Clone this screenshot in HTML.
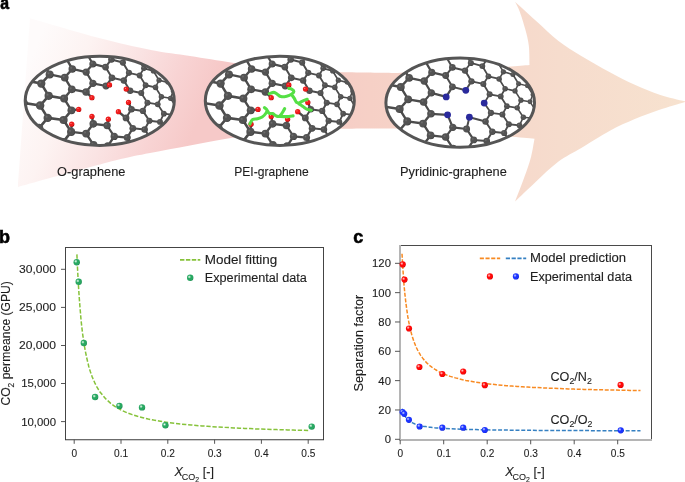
<!DOCTYPE html><html><head><meta charset="utf-8"><style>html,body{margin:0;padding:0;background:#fff;overflow:hidden}svg{display:block;will-change:transform}text{font-family:"Liberation Sans",sans-serif;stroke:#1e1e1e;stroke-width:0.12px}</style></head><body>
<svg width="685" height="482" viewBox="0 0 685 482">
<defs>
<linearGradient id="hg" gradientUnits="userSpaceOnUse" x1="280" y1="0" x2="686" y2="0"><stop offset="0.0000" stop-color="#f5c9c6"/><stop offset="0.2217" stop-color="#f6d0c6"/><stop offset="0.6897" stop-color="#f6dccd"/><stop offset="1.0000" stop-color="#f7e2cf"/></linearGradient>
<linearGradient id="hg2" gradientUnits="userSpaceOnUse" x1="30" y1="60" x2="194.6" y2="129.2"><stop offset="0" stop-color="#fefbfb"/><stop offset="0.27" stop-color="#fdf3f2"/><stop offset="0.55" stop-color="#fae3e3"/><stop offset="0.8" stop-color="#f8d3d3"/><stop offset="1" stop-color="#f6c9c8"/></linearGradient>
<radialGradient id="gG" cx="0.36" cy="0.36" r="0.64"><stop offset="0" stop-color="#f4fff7"/><stop offset="0.42" stop-color="#28a862"/><stop offset="0.85" stop-color="#28a862"/><stop offset="1" stop-color="#1f8f52"/></radialGradient>
<radialGradient id="gR" cx="0.36" cy="0.36" r="0.64"><stop offset="0" stop-color="#ffd6d6"/><stop offset="0.42" stop-color="#ff0808"/><stop offset="0.85" stop-color="#ff0808"/><stop offset="1" stop-color="#d80000"/></radialGradient>
<radialGradient id="gB" cx="0.36" cy="0.36" r="0.64"><stop offset="0" stop-color="#d0d8ff"/><stop offset="0.42" stop-color="#1c34ff"/><stop offset="0.85" stop-color="#1c34ff"/><stop offset="1" stop-color="#0d22d8"/></radialGradient>
<radialGradient id="gC" cx="0.36" cy="0.36" r="0.64"><stop offset="0" stop-color="#707070"/><stop offset="0.3" stop-color="#535353"/><stop offset="0.85" stop-color="#535353"/><stop offset="1" stop-color="#404040"/></radialGradient>
<radialGradient id="gO" cx="0.36" cy="0.36" r="0.64"><stop offset="0" stop-color="#ff9090"/><stop offset="0.28" stop-color="#ee1c1c"/><stop offset="0.85" stop-color="#ee1c1c"/><stop offset="1" stop-color="#b30000"/></radialGradient>
<radialGradient id="gN" cx="0.36" cy="0.36" r="0.64"><stop offset="0" stop-color="#6a6ad0"/><stop offset="0.28" stop-color="#2a2aa0"/><stop offset="0.85" stop-color="#2a2aa0"/><stop offset="1" stop-color="#1a1a70"/></radialGradient>
</defs>
<path d="M280.0,71.6 C290.8,71.7 325.8,72.1 345.0,72.3 C364.2,72.5 386.7,72.9 395.0,73.0 C407.5,72.4 447.6,70.8 470.0,69.5 C492.4,68.2 519.6,65.8 529.5,65.0 C529.4,61.8 529.5,51.5 528.8,45.6 C528.1,39.7 526.9,35.4 525.4,29.7 C523.9,24.0 521.4,16.1 519.7,11.4 C518.0,6.8 515.8,3.4 515.0,1.8 C518.4,4.9 528.4,14.0 535.6,20.5 C542.9,27.0 550.9,35.1 558.5,41.0 C566.1,46.9 572.7,50.7 581.3,55.9 C589.9,61.1 601.0,67.5 609.9,72.3 C618.8,77.1 626.5,81.1 634.8,84.8 C643.1,88.5 651.1,91.9 659.6,94.7 C668.1,97.5 681.6,100.4 686.0,101.6 C681.6,103.1 668.1,106.8 659.6,109.7 C651.1,112.6 643.1,115.6 634.8,119.1 C626.5,122.6 618.8,126.0 609.9,130.8 C601.0,135.6 589.9,142.9 581.3,148.0 C572.7,153.1 566.1,155.9 558.5,161.6 C550.9,167.3 542.8,175.3 535.6,182.0 C528.4,188.7 518.5,198.3 515.1,201.6 C516.6,197.6 521.6,185.0 524.2,177.6 C526.9,170.2 529.3,163.5 531.0,157.0 C532.7,150.5 533.9,141.8 534.5,138.8 C523.8,137.8 493.2,134.7 470.0,133.0 C446.8,131.3 407.5,129.3 395.0,128.6 C386.7,128.6 364.2,128.6 345.0,128.8 C325.8,129.0 290.8,129.5 280.0,129.7 C280.0,120.0 280.0,81.3 280.0,71.6 Z" fill="url(#hg)"/>
<path d="M30.0,18.0 C31.0,18.3 24.5,16.7 36.0,20.0 C47.5,23.3 79.8,33.0 99.0,38.0 C118.2,43.0 135.8,47.0 151.0,50.0 C166.2,53.0 176.2,53.8 190.0,56.0 C203.8,58.2 217.3,60.4 234.0,63.0 C250.7,65.6 280.7,70.3 290.0,71.8 C290.0,81.4 290.0,120.0 290.0,129.6 C280.7,130.9 250.7,134.9 234.0,137.5 C217.3,140.1 204.0,142.8 190.0,145.4 C176.0,148.0 162.5,150.5 150.0,153.0 C137.5,155.5 131.7,156.3 115.0,160.5 C98.3,164.7 66.2,173.6 50.0,178.0 C33.8,182.4 23.3,185.5 18.0,187.0 C20.0,158.8 28.0,46.2 30.0,18.0 Z" fill="url(#hg2)"/>
<clipPath id="ec0"><ellipse cx="99.75" cy="100.8" rx="74.55" ry="44.6"/></clipPath>
<ellipse cx="99.75" cy="100.8" rx="74.55" ry="44.6" fill="#fff"/>
<g clip-path="url(#ec0)"><path d="M173.31,91.14L181.21,92.77M165.1,66.96L170.43,75.71" stroke="#4c4c4c" stroke-width="1.4" fill="none" stroke-linecap="round"/><path d="M173.3,114.83L176.27,107.13M155.51,87.38L159.04,80.23M170.49,98.31L176.27,107.13M159.04,80.23L167.75,82.36M161.39,96.68L170.49,98.31M153.39,70.97L159.04,80.23M156.77,64.34L165.1,66.96M167.75,82.36L173.31,91.14M170.49,98.31L173.31,91.14M153.39,70.97L156.77,64.34M167.75,82.36L170.43,75.71" stroke="#4c4c4c" stroke-width="1.6" fill="none" stroke-linecap="round"/><path d="M157.71,104.36L163.83,113.69M155.51,87.38L161.39,96.68M141.22,92.91L147.43,102.72M163.83,113.69L173.3,114.83M122.84,62.58L127.8,55.47M127.8,55.47L138.12,58.59M159.99,121.89L166.34,131.26M139.63,75.47L145.61,85.25M145.61,85.25L155.51,87.38M141.22,92.91L145.61,85.25M159.99,121.89L163.83,113.69M138.12,58.59L143.87,68.34M147.43,102.72L157.71,104.36M143.87,68.34L153.39,70.97M157.71,104.36L161.39,96.68M139.63,75.47L143.87,68.34M128.92,72.84L139.63,75.47" stroke="#4c4c4c" stroke-width="1.8" fill="none" stroke-linecap="round"/><path d="M111.93,77.84L123.82,80.48M105.15,48.71L111.33,59.45M144.63,129.47L149.33,120.75M122.84,62.58L128.92,72.84M111.33,59.45L122.84,62.58M105.52,67.07L111.93,77.84M126.01,117.96L131.42,109.27M142.89,110.91L147.43,102.72M131.42,109.27L142.89,110.91M105.52,67.07L111.33,59.45M132.79,128.32L144.63,129.47M130.13,90.77L141.22,92.91M123.82,80.48L130.13,90.77M123.82,80.48L128.92,72.84M149.33,120.75L159.99,121.89M142.89,110.91L149.33,120.75M144.63,129.47L151.31,139.34" stroke="#4c4c4c" stroke-width="2" fill="none" stroke-linecap="round"/><path d="M127.23,137.54L134.23,147.93M92.82,63.93L105.52,67.07M107.09,125.51L114.19,136.38M86.06,92L92.88,83.35M105.96,85.99L111.93,77.84M127.23,137.54L132.79,128.32M114.19,136.38L127.23,137.54M86.14,72.06L92.88,83.35M86.14,72.06L92.82,63.93M126.01,117.96L132.79,128.32M92.88,83.35L105.96,85.99M86.31,52.68L92.82,63.93" stroke="#4c4c4c" stroke-width="2.2" fill="none" stroke-linecap="round"/><path d="M86.12,133.57L93.25,123.86M64.72,77.55L72.25,68.92M64.1,98.52L71.4,110.35M93.55,144.95L107.78,146.11M64.72,77.55L71.78,89.35M71.78,89.35L86.06,92M93.25,123.86L107.09,125.51M86.12,133.57L93.55,144.95M65.42,57.15L72.25,68.92M49.64,74.4L64.72,77.55M71.09,131.91L86.12,133.57M107.78,146.11L114.19,136.38M64.1,98.52L71.78,89.35M72.25,68.92L86.14,72.06M91.9,97.7L86.1,92M109.5,84.9L106,86M126.2,89.1L130.1,90.8M128.5,102.4L131.4,109.3M118.4,111.7L126,118M108.3,119.2L107.1,125.5M91.9,116.4L93.2,123.9M78.7,109.4L71.4,110.4M71.7,124.2L71.1,131.9" stroke="#4c4c4c" stroke-width="2.4" fill="none" stroke-linecap="round"/><path d="M41.25,83.55L48.64,95.86M63.56,120.04L71.4,110.35M39.03,128.08L47.72,117.88M48.64,95.86L64.1,98.52M47.72,117.88L63.56,120.04M63.1,142.13L71.09,131.91M40.1,105.54L48.64,95.86M23.45,102.88L40.1,105.54M40.1,105.54L47.72,117.88M41.25,83.55L49.64,74.4M46.88,140.46L63.1,142.13M42.48,62.12L49.64,74.4M24.98,80.39L41.25,83.55M63.56,120.04L71.09,131.91" stroke="#4c4c4c" stroke-width="2.6" fill="none" stroke-linecap="round"/><path d="M39.03,128.08L46.88,140.46" stroke="#4c4c4c" stroke-width="2.8" fill="none" stroke-linecap="round"/><circle cx="24.98" cy="80.39" r="4.28" fill="url(#gC)"/><circle cx="23.45" cy="102.88" r="4.38" fill="url(#gC)"/><circle cx="42.48" cy="62.12" r="4.04" fill="url(#gC)"/><circle cx="49.64" cy="74.4" r="4.02" fill="url(#gC)"/><circle cx="41.25" cy="83.55" r="4.14" fill="url(#gC)"/><circle cx="48.64" cy="95.86" r="4.12" fill="url(#gC)"/><circle cx="40.1" cy="105.54" r="4.24" fill="url(#gC)"/><circle cx="47.72" cy="117.88" r="4.22" fill="url(#gC)"/><circle cx="39.03" cy="128.08" r="4.34" fill="url(#gC)"/><circle cx="46.88" cy="140.46" r="4.32" fill="url(#gC)"/><circle cx="65.42" cy="57.15" r="3.78" fill="url(#gC)"/><circle cx="72.25" cy="68.92" r="3.76" fill="url(#gC)"/><circle cx="64.72" cy="77.55" r="3.88" fill="url(#gC)"/><circle cx="71.78" cy="89.35" r="3.86" fill="url(#gC)"/><circle cx="64.1" cy="98.52" r="3.98" fill="url(#gC)"/><circle cx="71.4" cy="110.35" r="3.96" fill="url(#gC)"/><circle cx="63.56" cy="120.04" r="4.08" fill="url(#gC)"/><circle cx="71.09" cy="131.91" r="4.06" fill="url(#gC)"/><circle cx="63.1" cy="142.13" r="4.18" fill="url(#gC)"/><circle cx="86.31" cy="52.68" r="3.52" fill="url(#gC)"/><circle cx="92.82" cy="63.93" r="3.5" fill="url(#gC)"/><circle cx="86.14" cy="72.06" r="3.62" fill="url(#gC)"/><circle cx="92.88" cy="83.35" r="3.6" fill="url(#gC)"/><circle cx="86.06" cy="92" r="3.72" fill="url(#gC)"/><circle cx="93.25" cy="123.86" r="3.8" fill="url(#gC)"/><circle cx="86.12" cy="133.57" r="3.92" fill="url(#gC)"/><circle cx="93.55" cy="144.95" r="3.9" fill="url(#gC)"/><circle cx="105.15" cy="48.71" r="3.25" fill="url(#gC)"/><circle cx="111.33" cy="59.45" r="3.23" fill="url(#gC)"/><circle cx="105.52" cy="67.07" r="3.35" fill="url(#gC)"/><circle cx="111.93" cy="77.84" r="3.33" fill="url(#gC)"/><circle cx="105.96" cy="85.99" r="3.46" fill="url(#gC)"/><circle cx="107.09" cy="125.51" r="3.66" fill="url(#gC)"/><circle cx="114.19" cy="136.38" r="3.65" fill="url(#gC)"/><circle cx="107.78" cy="146.11" r="3.77" fill="url(#gC)"/><circle cx="127.8" cy="55.47" r="2.96" fill="url(#gC)"/><circle cx="122.84" cy="62.58" r="3.09" fill="url(#gC)"/><circle cx="128.92" cy="72.84" r="3.07" fill="url(#gC)"/><circle cx="123.82" cy="80.48" r="3.19" fill="url(#gC)"/><circle cx="130.13" cy="90.77" r="3.17" fill="url(#gC)"/><circle cx="131.42" cy="109.27" r="3.28" fill="url(#gC)"/><circle cx="126.01" cy="117.96" r="3.4" fill="url(#gC)"/><circle cx="132.79" cy="128.32" r="3.39" fill="url(#gC)"/><circle cx="127.23" cy="137.54" r="3.51" fill="url(#gC)"/><circle cx="134.23" cy="147.93" r="3.49" fill="url(#gC)"/><circle cx="138.12" cy="58.59" r="2.81" fill="url(#gC)"/><circle cx="143.87" cy="68.34" r="2.79" fill="url(#gC)"/><circle cx="139.63" cy="75.47" r="2.92" fill="url(#gC)"/><circle cx="145.61" cy="85.25" r="2.9" fill="url(#gC)"/><circle cx="141.22" cy="92.91" r="3.03" fill="url(#gC)"/><circle cx="147.43" cy="102.72" r="3.01" fill="url(#gC)"/><circle cx="142.89" cy="110.91" r="3.14" fill="url(#gC)"/><circle cx="149.33" cy="120.75" r="3.12" fill="url(#gC)"/><circle cx="144.63" cy="129.47" r="3.25" fill="url(#gC)"/><circle cx="151.31" cy="139.34" r="3.23" fill="url(#gC)"/><circle cx="156.77" cy="64.34" r="2.52" fill="url(#gC)"/><circle cx="153.39" cy="70.97" r="2.65" fill="url(#gC)"/><circle cx="159.04" cy="80.23" r="2.63" fill="url(#gC)"/><circle cx="155.51" cy="87.38" r="2.76" fill="url(#gC)"/><circle cx="161.39" cy="96.68" r="2.74" fill="url(#gC)"/><circle cx="157.71" cy="104.36" r="2.87" fill="url(#gC)"/><circle cx="163.83" cy="113.69" r="2.86" fill="url(#gC)"/><circle cx="159.99" cy="121.89" r="2.98" fill="url(#gC)"/><circle cx="166.34" cy="131.26" r="2.97" fill="url(#gC)"/><circle cx="165.1" cy="66.96" r="2.37" fill="url(#gC)"/><circle cx="170.43" cy="75.71" r="2.35" fill="url(#gC)"/><circle cx="167.75" cy="82.36" r="2.48" fill="url(#gC)"/><circle cx="173.31" cy="91.14" r="2.47" fill="url(#gC)"/><circle cx="170.49" cy="98.31" r="2.6" fill="url(#gC)"/><circle cx="176.27" cy="107.13" r="2.59" fill="url(#gC)"/><circle cx="173.3" cy="114.83" r="2.72" fill="url(#gC)"/><circle cx="181.21" cy="92.77" r="2.32" fill="url(#gC)"/><circle cx="91.9" cy="97.7" r="2.65" fill="url(#gO)"/><circle cx="109.5" cy="84.9" r="2.65" fill="url(#gO)"/><circle cx="126.2" cy="89.1" r="2.65" fill="url(#gO)"/><circle cx="128.5" cy="102.4" r="2.65" fill="url(#gO)"/><circle cx="118.4" cy="111.7" r="2.65" fill="url(#gO)"/><circle cx="108.3" cy="119.2" r="2.65" fill="url(#gO)"/><circle cx="91.9" cy="116.4" r="2.65" fill="url(#gO)"/><circle cx="78.7" cy="109.4" r="2.65" fill="url(#gO)"/><circle cx="71.7" cy="124.2" r="2.65" fill="url(#gO)"/></g>
<ellipse cx="99.75" cy="100.8" rx="74.55" ry="44.6" fill="none" stroke="#555" stroke-width="3"/>
<clipPath id="ec1"><ellipse cx="279.8" cy="100.8" rx="74.5" ry="44.6"/></clipPath>
<ellipse cx="279.8" cy="100.8" rx="74.5" ry="44.6" fill="#fff"/>
<g clip-path="url(#ec1)"><path d="M352.61,91.14L360.51,92.77M344.4,66.96L349.73,75.71" stroke="#4c4c4c" stroke-width="1.4" fill="none" stroke-linecap="round"/><path d="M352.6,114.83L355.57,107.13M334.81,87.38L338.34,80.23M349.79,98.31L355.57,107.13M338.34,80.23L347.05,82.36M340.69,96.68L349.79,98.31M332.69,70.97L338.34,80.23M336.07,64.34L344.4,66.96M347.05,82.36L352.61,91.14M349.79,98.31L352.61,91.14M332.69,70.97L336.07,64.34M347.05,82.36L349.73,75.71" stroke="#4c4c4c" stroke-width="1.6" fill="none" stroke-linecap="round"/><path d="M337.01,104.36L343.13,113.69M334.81,87.38L340.69,96.68M320.52,92.91L326.73,102.72M343.13,113.69L352.6,114.83M302.14,62.58L307.1,55.47M307.1,55.47L317.42,58.59M339.29,121.89L345.64,131.26M318.93,75.47L324.91,85.25M324.91,85.25L334.81,87.38M320.52,92.91L324.91,85.25M339.29,121.89L343.13,113.69M317.42,58.59L323.17,68.34M326.73,102.72L337.01,104.36M323.17,68.34L332.69,70.97M337.01,104.36L340.69,96.68M318.93,75.47L323.17,68.34M308.22,72.84L318.93,75.47" stroke="#4c4c4c" stroke-width="1.8" fill="none" stroke-linecap="round"/><path d="M291.23,77.84L303.12,80.48M284.45,48.71L290.63,59.45M323.93,129.47L328.63,120.75M302.14,62.58L308.22,72.84M290.63,59.45L302.14,62.58M284.82,67.07L291.23,77.84M305.31,117.96L310.72,109.27M322.19,110.91L326.73,102.72M310.72,109.27L322.19,110.91M284.82,67.07L290.63,59.45M312.09,128.32L323.93,129.47M309.43,90.77L320.52,92.91M303.12,80.48L309.43,90.77M303.12,80.48L308.22,72.84M328.63,120.75L339.29,121.89M322.19,110.91L328.63,120.75M323.93,129.47L330.61,139.34" stroke="#4c4c4c" stroke-width="2" fill="none" stroke-linecap="round"/><path d="M306.53,137.54L313.53,147.93M272.12,63.93L284.82,67.07M286.39,125.51L293.49,136.38M265.36,92L272.18,83.35M285.26,85.99L291.23,77.84M306.53,137.54L312.09,128.32M293.49,136.38L306.53,137.54M265.44,72.06L272.18,83.35M265.44,72.06L272.12,63.93M305.31,117.96L312.09,128.32M272.18,83.35L285.26,85.99M265.61,52.68L272.12,63.93" stroke="#4c4c4c" stroke-width="2.2" fill="none" stroke-linecap="round"/><path d="M265.42,133.57L272.55,123.86M244.02,77.55L251.55,68.92M243.4,98.52L250.7,110.35M272.85,144.95L287.08,146.11M244.02,77.55L251.08,89.35M251.08,89.35L265.36,92M272.55,123.86L286.39,125.51M265.42,133.57L272.85,144.95M244.72,57.15L251.55,68.92M228.94,74.4L244.02,77.55M250.39,131.91L265.42,133.57M287.08,146.11L293.49,136.38M243.4,98.52L251.08,89.35M251.55,68.92L265.44,72.06M271.2,97.7L265.4,92M288.8,84.9L285.3,86M305.5,89.1L309.4,90.8M307.8,102.4L310.7,109.3M297.7,111.7L305.3,118M287.6,119.2L286.4,125.5M271.2,116.4L272.5,123.9M258,109.4L250.7,110.4M251,124.2L250.4,131.9" stroke="#4c4c4c" stroke-width="2.4" fill="none" stroke-linecap="round"/><path d="M220.55,83.55L227.94,95.86M242.86,120.04L250.7,110.35M218.33,128.08L227.02,117.88M227.94,95.86L243.4,98.52M227.02,117.88L242.86,120.04M242.4,142.13L250.39,131.91M219.4,105.54L227.94,95.86M202.75,102.88L219.4,105.54M219.4,105.54L227.02,117.88M220.55,83.55L228.94,74.4M226.18,140.46L242.4,142.13M221.78,62.12L228.94,74.4M204.28,80.39L220.55,83.55M242.86,120.04L250.39,131.91" stroke="#4c4c4c" stroke-width="2.6" fill="none" stroke-linecap="round"/><path d="M218.33,128.08L226.18,140.46" stroke="#4c4c4c" stroke-width="2.8" fill="none" stroke-linecap="round"/><circle cx="204.28" cy="80.39" r="4.28" fill="url(#gC)"/><circle cx="202.75" cy="102.88" r="4.38" fill="url(#gC)"/><circle cx="221.78" cy="62.12" r="4.04" fill="url(#gC)"/><circle cx="228.94" cy="74.4" r="4.02" fill="url(#gC)"/><circle cx="220.55" cy="83.55" r="4.14" fill="url(#gC)"/><circle cx="227.94" cy="95.86" r="4.12" fill="url(#gC)"/><circle cx="219.4" cy="105.54" r="4.24" fill="url(#gC)"/><circle cx="227.02" cy="117.88" r="4.22" fill="url(#gC)"/><circle cx="218.33" cy="128.08" r="4.34" fill="url(#gC)"/><circle cx="226.18" cy="140.46" r="4.32" fill="url(#gC)"/><circle cx="244.72" cy="57.15" r="3.78" fill="url(#gC)"/><circle cx="251.55" cy="68.92" r="3.76" fill="url(#gC)"/><circle cx="244.02" cy="77.55" r="3.88" fill="url(#gC)"/><circle cx="251.08" cy="89.35" r="3.86" fill="url(#gC)"/><circle cx="243.4" cy="98.52" r="3.98" fill="url(#gC)"/><circle cx="250.7" cy="110.35" r="3.96" fill="url(#gC)"/><circle cx="242.86" cy="120.04" r="4.08" fill="url(#gC)"/><circle cx="250.39" cy="131.91" r="4.06" fill="url(#gC)"/><circle cx="242.4" cy="142.13" r="4.18" fill="url(#gC)"/><circle cx="265.61" cy="52.68" r="3.52" fill="url(#gC)"/><circle cx="272.12" cy="63.93" r="3.5" fill="url(#gC)"/><circle cx="265.44" cy="72.06" r="3.62" fill="url(#gC)"/><circle cx="272.18" cy="83.35" r="3.6" fill="url(#gC)"/><circle cx="265.36" cy="92" r="3.72" fill="url(#gC)"/><circle cx="272.55" cy="123.86" r="3.8" fill="url(#gC)"/><circle cx="265.42" cy="133.57" r="3.92" fill="url(#gC)"/><circle cx="272.85" cy="144.95" r="3.9" fill="url(#gC)"/><circle cx="284.45" cy="48.71" r="3.25" fill="url(#gC)"/><circle cx="290.63" cy="59.45" r="3.23" fill="url(#gC)"/><circle cx="284.82" cy="67.07" r="3.35" fill="url(#gC)"/><circle cx="291.23" cy="77.84" r="3.33" fill="url(#gC)"/><circle cx="285.26" cy="85.99" r="3.46" fill="url(#gC)"/><circle cx="286.39" cy="125.51" r="3.66" fill="url(#gC)"/><circle cx="293.49" cy="136.38" r="3.65" fill="url(#gC)"/><circle cx="287.08" cy="146.11" r="3.77" fill="url(#gC)"/><circle cx="307.1" cy="55.47" r="2.96" fill="url(#gC)"/><circle cx="302.14" cy="62.58" r="3.09" fill="url(#gC)"/><circle cx="308.22" cy="72.84" r="3.07" fill="url(#gC)"/><circle cx="303.12" cy="80.48" r="3.19" fill="url(#gC)"/><circle cx="309.43" cy="90.77" r="3.17" fill="url(#gC)"/><circle cx="310.72" cy="109.27" r="3.28" fill="url(#gC)"/><circle cx="305.31" cy="117.96" r="3.4" fill="url(#gC)"/><circle cx="312.09" cy="128.32" r="3.39" fill="url(#gC)"/><circle cx="306.53" cy="137.54" r="3.51" fill="url(#gC)"/><circle cx="313.53" cy="147.93" r="3.49" fill="url(#gC)"/><circle cx="317.42" cy="58.59" r="2.81" fill="url(#gC)"/><circle cx="323.17" cy="68.34" r="2.79" fill="url(#gC)"/><circle cx="318.93" cy="75.47" r="2.92" fill="url(#gC)"/><circle cx="324.91" cy="85.25" r="2.9" fill="url(#gC)"/><circle cx="320.52" cy="92.91" r="3.03" fill="url(#gC)"/><circle cx="326.73" cy="102.72" r="3.01" fill="url(#gC)"/><circle cx="322.19" cy="110.91" r="3.14" fill="url(#gC)"/><circle cx="328.63" cy="120.75" r="3.12" fill="url(#gC)"/><circle cx="323.93" cy="129.47" r="3.25" fill="url(#gC)"/><circle cx="330.61" cy="139.34" r="3.23" fill="url(#gC)"/><circle cx="336.07" cy="64.34" r="2.52" fill="url(#gC)"/><circle cx="332.69" cy="70.97" r="2.65" fill="url(#gC)"/><circle cx="338.34" cy="80.23" r="2.63" fill="url(#gC)"/><circle cx="334.81" cy="87.38" r="2.76" fill="url(#gC)"/><circle cx="340.69" cy="96.68" r="2.74" fill="url(#gC)"/><circle cx="337.01" cy="104.36" r="2.87" fill="url(#gC)"/><circle cx="343.13" cy="113.69" r="2.86" fill="url(#gC)"/><circle cx="339.29" cy="121.89" r="2.98" fill="url(#gC)"/><circle cx="345.64" cy="131.26" r="2.97" fill="url(#gC)"/><circle cx="344.4" cy="66.96" r="2.37" fill="url(#gC)"/><circle cx="349.73" cy="75.71" r="2.35" fill="url(#gC)"/><circle cx="347.05" cy="82.36" r="2.48" fill="url(#gC)"/><circle cx="352.61" cy="91.14" r="2.47" fill="url(#gC)"/><circle cx="349.79" cy="98.31" r="2.6" fill="url(#gC)"/><circle cx="355.57" cy="107.13" r="2.59" fill="url(#gC)"/><circle cx="352.6" cy="114.83" r="2.72" fill="url(#gC)"/><circle cx="360.51" cy="92.77" r="2.32" fill="url(#gC)"/><circle cx="271.2" cy="97.7" r="2.65" fill="url(#gO)"/><circle cx="288.8" cy="84.9" r="2.65" fill="url(#gO)"/><circle cx="305.5" cy="89.1" r="2.65" fill="url(#gO)"/><circle cx="307.8" cy="102.4" r="2.65" fill="url(#gO)"/><circle cx="297.7" cy="111.7" r="2.65" fill="url(#gO)"/><circle cx="287.6" cy="119.2" r="2.65" fill="url(#gO)"/><circle cx="271.2" cy="116.4" r="2.65" fill="url(#gO)"/><circle cx="258" cy="109.4" r="2.65" fill="url(#gO)"/><circle cx="251" cy="124.2" r="2.65" fill="url(#gO)"/></g>
<ellipse cx="279.8" cy="100.8" rx="74.5" ry="44.6" fill="none" stroke="#555" stroke-width="3"/>
<clipPath id="ec2"><ellipse cx="460.2" cy="102.7" rx="74.3" ry="44.6"/></clipPath>
<ellipse cx="460.2" cy="102.7" rx="74.3" ry="44.6" fill="#fff"/>
<g clip-path="url(#ec2)"><path d="M529.99,101.81L535.77,110.63M518.54,83.73L527.25,85.86M516.27,67.84L524.6,70.46M527.25,85.86L532.81,94.64M529.99,101.81L532.81,94.64M512.89,74.47L516.27,67.84M532.81,94.64L540.71,96.27M524.6,70.46L529.93,79.21M527.25,85.86L529.93,79.21" stroke="#4c4c4c" stroke-width="1.4" fill="none" stroke-linecap="round"/><path d="M532.8,118.33L535.77,110.63M517.21,107.86L523.33,117.19M515.01,90.88L520.89,100.18M515.01,90.88L518.54,83.73M523.33,117.19L532.8,118.33M487.3,58.97L497.62,62.09M499.13,78.97L505.11,88.75M505.11,88.75L515.01,90.88M520.89,100.18L529.99,101.81M512.89,74.47L518.54,83.73M519.49,125.39L523.33,117.19M497.62,62.09L503.37,71.84M506.93,106.22L517.21,107.86M503.37,71.84L512.89,74.47M517.21,107.86L520.89,100.18M499.13,78.97L503.37,71.84" stroke="#4c4c4c" stroke-width="1.6" fill="none" stroke-linecap="round"/><path d="M471.43,81.34L483.32,83.98M500.72,96.41L506.93,106.22M482.34,66.08L487.3,58.97M464.65,52.21L470.83,62.95M519.49,125.39L525.84,134.76M504.13,132.97L508.83,124.25M484.2,103.1L490.92,112.77M482.34,66.08L488.42,76.34M470.83,62.95L482.34,66.08M500.72,96.41L505.11,88.75M484.2,103.1L489.63,94.27M502.39,114.41L506.93,106.22M490.92,112.77L502.39,114.41M465.02,70.57L470.83,62.95M489.63,94.27L500.72,96.41M483.32,83.98L489.63,94.27M483.32,83.98L488.42,76.34M508.83,124.25L519.49,125.39M488.42,76.34L499.13,78.97M502.39,114.41L508.83,124.25M504.13,132.97L510.81,142.84" stroke="#4c4c4c" stroke-width="1.8" fill="none" stroke-linecap="round"/><path d="M466.59,129.01L469.4,117.2M486.73,141.04L493.73,151.43M452.32,67.43L465.02,70.57M469.4,117.2L485.51,121.46M465.02,70.57L471.43,81.34M485.51,121.46L490.92,112.77M465.8,90.3L471.43,81.34M486.73,141.04L492.29,131.82M473.69,139.88L486.73,141.04M445.64,75.56L452.38,86.85M492.29,131.82L504.13,132.97M432.3,52.54L445.81,56.18M445.64,75.56L452.32,67.43M485.51,121.46L492.29,131.82M452.38,86.85L465.8,90.3M445.81,56.18L452.32,67.43" stroke="#4c4c4c" stroke-width="2" fill="none" stroke-linecap="round"/><path d="M445.62,137.07L452.75,127.36M424.22,81.05L431.75,72.42M466.59,129.01L473.69,139.88M423.6,102.02L430.9,113.85M447.6,114.8L452.75,127.36M453.05,148.45L467.28,149.61M424.22,81.05L431.28,92.85M446.2,96.9L452.38,86.85M431.28,92.85L446.2,96.9M452.75,127.36L466.59,129.01M445.62,137.07L453.05,148.45M430.9,113.85L447.6,114.8M424.92,60.65L431.75,72.42M409.14,77.9L424.22,81.05M430.59,135.41L445.62,137.07M467.28,149.61L473.69,139.88M423.6,102.02L431.28,92.85M431.75,72.42L445.64,75.56M424.92,60.65L432.3,52.54" stroke="#4c4c4c" stroke-width="2.2" fill="none" stroke-linecap="round"/><path d="M400.75,87.05L408.14,99.36M423.06,123.54L430.9,113.85M398.53,131.58L407.22,121.38M408.14,99.36L423.6,102.02M407.22,121.38L423.06,123.54M422.6,145.63L430.59,135.41M399.6,109.04L408.14,99.36M382.95,106.38L399.6,109.04M399.6,109.04L407.22,121.38M398.53,131.58L406.38,143.96M400.75,87.05L409.14,77.9M406.38,143.96L422.6,145.63M401.98,65.62L409.14,77.9M384.48,83.89L400.75,87.05M423.06,123.54L430.59,135.41" stroke="#4c4c4c" stroke-width="2.4" fill="none" stroke-linecap="round"/><circle cx="384.48" cy="83.89" r="4.07" fill="url(#gC)"/><circle cx="382.95" cy="106.38" r="4.16" fill="url(#gC)"/><circle cx="401.98" cy="65.62" r="3.84" fill="url(#gC)"/><circle cx="409.14" cy="77.9" r="3.82" fill="url(#gC)"/><circle cx="400.75" cy="87.05" r="3.93" fill="url(#gC)"/><circle cx="408.14" cy="99.36" r="3.91" fill="url(#gC)"/><circle cx="399.6" cy="109.04" r="4.03" fill="url(#gC)"/><circle cx="407.22" cy="121.38" r="4.01" fill="url(#gC)"/><circle cx="398.53" cy="131.58" r="4.12" fill="url(#gC)"/><circle cx="406.38" cy="143.96" r="4.1" fill="url(#gC)"/><circle cx="432.3" cy="52.54" r="3.48" fill="url(#gC)"/><circle cx="424.92" cy="60.65" r="3.59" fill="url(#gC)"/><circle cx="431.75" cy="72.42" r="3.57" fill="url(#gC)"/><circle cx="424.22" cy="81.05" r="3.69" fill="url(#gC)"/><circle cx="431.28" cy="92.85" r="3.67" fill="url(#gC)"/><circle cx="423.6" cy="102.02" r="3.78" fill="url(#gC)"/><circle cx="430.9" cy="113.85" r="3.76" fill="url(#gC)"/><circle cx="423.06" cy="123.54" r="3.87" fill="url(#gC)"/><circle cx="430.59" cy="135.41" r="3.86" fill="url(#gC)"/><circle cx="422.6" cy="145.63" r="3.97" fill="url(#gC)"/><circle cx="445.81" cy="56.18" r="3.34" fill="url(#gC)"/><circle cx="452.32" cy="67.43" r="3.32" fill="url(#gC)"/><circle cx="445.64" cy="75.56" r="3.44" fill="url(#gC)"/><circle cx="452.38" cy="86.85" r="3.42" fill="url(#gC)"/><circle cx="446.2" cy="96.9" r="3.4" fill="#2a2a9c"/><circle cx="447.6" cy="114.8" r="3.4" fill="#2a2a9c"/><circle cx="452.75" cy="127.36" r="3.61" fill="url(#gC)"/><circle cx="445.62" cy="137.07" r="3.73" fill="url(#gC)"/><circle cx="453.05" cy="148.45" r="3.71" fill="url(#gC)"/><circle cx="464.65" cy="52.21" r="3.09" fill="url(#gC)"/><circle cx="470.83" cy="62.95" r="3.07" fill="url(#gC)"/><circle cx="465.02" cy="70.57" r="3.19" fill="url(#gC)"/><circle cx="471.43" cy="81.34" r="3.17" fill="url(#gC)"/><circle cx="465.8" cy="90.3" r="3.4" fill="#2a2a9c"/><circle cx="469.4" cy="117.2" r="3.4" fill="#2a2a9c"/><circle cx="466.59" cy="129.01" r="3.48" fill="url(#gC)"/><circle cx="473.69" cy="139.88" r="3.46" fill="url(#gC)"/><circle cx="467.28" cy="149.61" r="3.58" fill="url(#gC)"/><circle cx="487.3" cy="58.97" r="2.81" fill="url(#gC)"/><circle cx="482.34" cy="66.08" r="2.93" fill="url(#gC)"/><circle cx="488.42" cy="76.34" r="2.91" fill="url(#gC)"/><circle cx="483.32" cy="83.98" r="3.03" fill="url(#gC)"/><circle cx="489.63" cy="94.27" r="3.01" fill="url(#gC)"/><circle cx="484.2" cy="103.1" r="3.4" fill="#2a2a9c"/><circle cx="490.92" cy="112.77" r="3.12" fill="url(#gC)"/><circle cx="485.51" cy="121.46" r="3.23" fill="url(#gC)"/><circle cx="492.29" cy="131.82" r="3.22" fill="url(#gC)"/><circle cx="486.73" cy="141.04" r="3.33" fill="url(#gC)"/><circle cx="493.73" cy="151.43" r="3.32" fill="url(#gC)"/><circle cx="497.62" cy="62.09" r="2.67" fill="url(#gC)"/><circle cx="503.37" cy="71.84" r="2.65" fill="url(#gC)"/><circle cx="499.13" cy="78.97" r="2.78" fill="url(#gC)"/><circle cx="505.11" cy="88.75" r="2.76" fill="url(#gC)"/><circle cx="500.72" cy="96.41" r="2.88" fill="url(#gC)"/><circle cx="506.93" cy="106.22" r="2.86" fill="url(#gC)"/><circle cx="502.39" cy="114.41" r="2.98" fill="url(#gC)"/><circle cx="508.83" cy="124.25" r="2.97" fill="url(#gC)"/><circle cx="504.13" cy="132.97" r="3.09" fill="url(#gC)"/><circle cx="510.81" cy="142.84" r="3.07" fill="url(#gC)"/><circle cx="516.27" cy="67.84" r="2.39" fill="url(#gC)"/><circle cx="512.89" cy="74.47" r="2.52" fill="url(#gC)"/><circle cx="518.54" cy="83.73" r="2.5" fill="url(#gC)"/><circle cx="515.01" cy="90.88" r="2.62" fill="url(#gC)"/><circle cx="520.89" cy="100.18" r="2.61" fill="url(#gC)"/><circle cx="517.21" cy="107.86" r="2.73" fill="url(#gC)"/><circle cx="523.33" cy="117.19" r="2.71" fill="url(#gC)"/><circle cx="519.49" cy="125.39" r="2.83" fill="url(#gC)"/><circle cx="525.84" cy="134.76" r="2.82" fill="url(#gC)"/><circle cx="524.6" cy="70.46" r="2.25" fill="url(#gC)"/><circle cx="529.93" cy="79.21" r="2.23" fill="url(#gC)"/><circle cx="527.25" cy="85.86" r="2.36" fill="url(#gC)"/><circle cx="532.81" cy="94.64" r="2.35" fill="url(#gC)"/><circle cx="529.99" cy="101.81" r="2.47" fill="url(#gC)"/><circle cx="535.77" cy="110.63" r="2.46" fill="url(#gC)"/><circle cx="532.8" cy="118.33" r="2.58" fill="url(#gC)"/><circle cx="540.71" cy="96.27" r="2.21" fill="url(#gC)"/></g>
<ellipse cx="460.2" cy="102.7" rx="74.3" ry="44.6" fill="none" stroke="#555" stroke-width="3"/>
<path d="M269.2,93.7 C270.0,93.5 272.5,92.3 273.9,92.4 C275.3,92.5 276.2,93.6 277.4,94.3 C278.6,95.0 279.3,96.3 280.9,96.6 C282.4,96.9 284.9,96.6 286.7,96.2 C288.4,95.8 290.2,95.1 291.4,94.3 C292.6,93.5 293.9,92.5 293.9,91.6 C293.9,90.7 292.5,89.6 291.6,89.1 C290.8,88.6 289.3,88.5 288.8,88.4 M291.4,94.3 C291.9,95.0 293.5,97.1 294.3,98.4 C295.1,99.7 295.5,101.1 296.2,101.9 C296.9,102.7 297.5,102.6 298.6,103.4 C299.7,104.2 301.6,105.5 303.0,106.5 C304.4,107.5 305.8,108.8 307.2,109.4 C308.6,110.0 310.5,110.1 311.2,110.2 M298.6,103.4 C299.2,103.1 300.6,102.0 302.0,101.3 C303.4,100.6 306.3,99.6 307.2,99.3 M249.9,124.0 C250.3,123.3 251.3,120.5 252.6,119.6 C253.9,118.7 255.9,119.2 257.5,118.8 C259.1,118.4 260.8,117.9 262.2,117.0 C263.6,116.1 264.9,114.7 265.7,113.5 C266.5,112.3 267.1,111.0 266.9,110.0 C266.7,109.0 264.9,108.1 264.5,107.7 M266.9,110.0 C267.3,110.5 268.2,112.7 269.2,113.3 C270.2,113.9 271.7,113.3 272.7,113.6 C273.7,113.9 274.2,114.8 275.2,115.3 C276.2,115.8 277.6,116.6 278.5,116.5 C279.4,116.4 280.1,115.6 280.9,114.7 C281.7,113.8 282.6,112.2 283.2,111.2 C283.8,110.2 284.4,109.1 284.6,108.7 M278.5,116.5 C279.5,116.5 282.6,116.6 284.4,116.6 C286.1,116.6 287.6,116.6 289.0,116.5 C290.4,116.4 292.4,116.0 293.1,115.9" fill="none" stroke="#55e045" stroke-width="3.1" stroke-linecap="round" stroke-linejoin="round"/>
<line x1="65.5" y1="247.5" x2="323.5" y2="247.5" stroke="#444" stroke-width="1"/>
<line x1="323.5" y1="247" x2="323.5" y2="440" stroke="#444" stroke-width="1"/>
<line x1="65.5" y1="247" x2="65.5" y2="440" stroke="#444" stroke-width="1"/>
<line x1="65" y1="439.7" x2="324" y2="439.7" stroke="#3a3a3a" stroke-width="1.1"/>
<line x1="61" y1="269.3" x2="65" y2="269.3" stroke="#555" stroke-width="1"/>
<line x1="61" y1="307.4" x2="65" y2="307.4" stroke="#555" stroke-width="1"/>
<line x1="61" y1="345.5" x2="65" y2="345.5" stroke="#555" stroke-width="1"/>
<line x1="61" y1="383.5" x2="65" y2="383.5" stroke="#555" stroke-width="1"/>
<line x1="61" y1="421.6" x2="65" y2="421.6" stroke="#555" stroke-width="1"/>
<line x1="74.2" y1="439.5" x2="74.2" y2="443.8" stroke="#555" stroke-width="1"/>
<line x1="121" y1="439.5" x2="121" y2="443.8" stroke="#555" stroke-width="1"/>
<line x1="167.8" y1="439.5" x2="167.8" y2="443.8" stroke="#555" stroke-width="1"/>
<line x1="214.6" y1="439.5" x2="214.6" y2="443.8" stroke="#555" stroke-width="1"/>
<line x1="261.4" y1="439.5" x2="261.4" y2="443.8" stroke="#555" stroke-width="1"/>
<line x1="308.2" y1="439.5" x2="308.2" y2="443.8" stroke="#555" stroke-width="1"/>
<path d="M76.9,254.4 L77.5,267.8 L78.1,279.4 L78.7,289.5 L79.3,298.4 L79.9,306.3 L80.5,313.3 L81.0,319.6 L81.6,325.2 L82.2,330.4 L82.8,335.1 L83.4,339.4 L84.0,343.3 L84.6,347.0 L85.2,350.3 L85.8,353.4 L86.4,356.3 L87.0,359.0 L87.6,361.6 L88.2,363.9 L88.7,366.2 L89.3,368.2 L89.9,370.2 L90.5,372.1 L91.1,373.8 L91.7,375.5 L92.3,377.1 L92.9,378.5 L93.5,380.0 L94.1,381.3 L94.7,382.6 L95.3,383.8 L95.9,385.0 L96.4,386.1 L97.0,387.2 L97.6,388.2 L98.2,389.2 L98.8,390.2 L99.4,391.1 L100.0,392.0 L105.4,398.5 L110.7,403.4 L116.1,407.2 L121.4,410.2 L126.8,412.6 L132.2,414.6 L137.5,416.3 L142.9,417.7 L148.2,419.0 L153.6,420.1 L158.9,421.0 L164.3,421.9 L169.7,422.7 L175.0,423.3 L180.4,424.0 L185.7,424.5 L191.1,425.0 L196.5,425.5 L201.8,425.9 L207.2,426.3 L212.5,426.7 L217.9,427.0 L223.3,427.3 L228.6,427.6 L234.0,427.9 L239.3,428.2 L244.7,428.4 L250.1,428.6 L255.4,428.9 L260.8,429.1 L266.1,429.2 L271.5,429.4 L276.8,429.6 L282.2,429.8 L287.6,429.9 L292.9,430.1 L298.3,430.2 L303.6,430.3 L309.0,430.5" fill="none" stroke="#86c23a" stroke-width="1.5" stroke-dasharray="4.3,1.8"/>
<circle cx="76.7" cy="262.2" r="3.2" fill="url(#gG)"/>
<circle cx="78.7" cy="281.8" r="3.2" fill="url(#gG)"/>
<circle cx="83.8" cy="343" r="3.2" fill="url(#gG)"/>
<circle cx="95.1" cy="397" r="3.2" fill="url(#gG)"/>
<circle cx="119.4" cy="405.9" r="3.2" fill="url(#gG)"/>
<circle cx="142" cy="407.4" r="3.2" fill="url(#gG)"/>
<circle cx="165.4" cy="425.3" r="3.2" fill="url(#gG)"/>
<circle cx="311.7" cy="426.6" r="3.2" fill="url(#gG)"/>
<line x1="180" y1="259.9" x2="200.3" y2="259.9" stroke="#86c23a" stroke-width="1.6" stroke-dasharray="4.4,1.5"/>
<circle cx="190.2" cy="277.8" r="3.2" fill="url(#gG)"/>
<line x1="400" y1="245.5" x2="652" y2="245.5" stroke="#4a4a4a" stroke-width="1"/>
<line x1="651.5" y1="245.5" x2="651.5" y2="440" stroke="#4a4a4a" stroke-width="1"/>
<line x1="400" y1="245" x2="400" y2="441" stroke="#b5b5b5" stroke-width="2"/>
<line x1="399" y1="440" x2="652" y2="440" stroke="#b5b5b5" stroke-width="2"/>
<line x1="395" y1="439.3" x2="400" y2="439.3" stroke="#555" stroke-width="1"/>
<line x1="395" y1="409.97" x2="400" y2="409.97" stroke="#555" stroke-width="1"/>
<line x1="395" y1="380.64" x2="400" y2="380.64" stroke="#555" stroke-width="1"/>
<line x1="395" y1="351.31" x2="400" y2="351.31" stroke="#555" stroke-width="1"/>
<line x1="395" y1="321.98" x2="400" y2="321.98" stroke="#555" stroke-width="1"/>
<line x1="395" y1="292.65" x2="400" y2="292.65" stroke="#555" stroke-width="1"/>
<line x1="395" y1="263.32" x2="400" y2="263.32" stroke="#555" stroke-width="1"/>
<line x1="400.2" y1="440" x2="400.2" y2="444.3" stroke="#555" stroke-width="1"/>
<line x1="443.7" y1="440" x2="443.7" y2="444.3" stroke="#555" stroke-width="1"/>
<line x1="487.2" y1="440" x2="487.2" y2="444.3" stroke="#555" stroke-width="1"/>
<line x1="530.7" y1="440" x2="530.7" y2="444.3" stroke="#555" stroke-width="1"/>
<line x1="574.2" y1="440" x2="574.2" y2="444.3" stroke="#555" stroke-width="1"/>
<line x1="617.7" y1="440" x2="617.7" y2="444.3" stroke="#555" stroke-width="1"/>
<path d="M402.0,253.7 L403.0,270.4 L403.9,283.6 L404.9,294.2 L405.9,303.0 L406.9,310.4 L407.8,316.7 L408.8,322.1 L409.8,326.8 L410.8,330.9 L411.7,334.6 L412.7,337.8 L413.7,340.8 L414.7,343.4 L415.6,345.8 L416.6,348.0 L417.6,350.0 L418.6,351.8 L419.5,353.5 L420.5,355.1 L421.5,356.5 L422.5,357.9 L423.4,359.1 L424.4,360.3 L425.4,361.4 L426.4,362.4 L427.3,363.4 L428.3,364.3 L429.3,365.2 L430.3,366.0 L431.2,366.7 L432.2,367.5 L433.2,368.2 L434.2,368.8 L435.1,369.4 L436.1,370.0 L437.1,370.6 L438.1,371.2 L439.0,371.7 L440.0,372.2 L445.1,374.5 L450.3,376.4 L455.4,377.9 L460.6,379.2 L465.7,380.4 L470.8,381.3 L476.0,382.2 L481.1,382.9 L486.3,383.6 L491.4,384.2 L496.6,384.7 L501.7,385.2 L506.8,385.7 L512.0,386.1 L517.1,386.4 L522.3,386.8 L527.4,387.1 L532.5,387.4 L537.7,387.6 L542.8,387.9 L548.0,388.1 L553.1,388.3 L558.2,388.5 L563.4,388.7 L568.5,388.9 L573.7,389.1 L578.8,389.2 L583.9,389.4 L589.1,389.5 L594.2,389.7 L599.4,389.8 L604.5,389.9 L609.7,390.0 L614.8,390.1 L619.9,390.2 L625.1,390.3 L630.2,390.4 L635.4,390.5 L640.5,390.6" fill="none" stroke="#f88a22" stroke-width="1.5" stroke-dasharray="4,1.6"/>
<path d="M402.1,408.8 L403.4,412.7 L404.7,415.5 L406.0,417.5 L407.3,419.1 L408.6,420.4 L409.9,421.4 L411.2,422.2 L412.6,422.9 L413.9,423.5 L415.2,424.1 L416.5,424.5 L417.8,424.9 L419.1,425.3 L420.4,425.6 L421.7,425.9 L423.0,426.2 L424.3,426.4 L425.6,426.6 L426.9,426.8 L428.2,427.0 L429.5,427.2 L430.9,427.3 L432.2,427.5 L433.5,427.6 L434.8,427.8 L436.1,427.9 L437.4,428.0 L438.7,428.1 L440.0,428.2 L445.1,428.5 L450.3,428.8 L455.4,429.0 L460.6,429.2 L465.7,429.4 L470.8,429.5 L476.0,429.6 L481.1,429.7 L486.3,429.8 L491.4,429.9 L496.6,430.0 L501.7,430.0 L506.8,430.1 L512.0,430.2 L517.1,430.2 L522.3,430.3 L527.4,430.3 L532.5,430.3 L537.7,430.4 L542.8,430.4 L548.0,430.5 L553.1,430.5 L558.2,430.5 L563.4,430.5 L568.5,430.6 L573.7,430.6 L578.8,430.6 L583.9,430.6 L589.1,430.6 L594.2,430.7 L599.4,430.7 L604.5,430.7 L609.7,430.7 L614.8,430.7 L619.9,430.7 L625.1,430.8 L630.2,430.8 L635.4,430.8 L640.5,430.8" fill="none" stroke="#3580c2" stroke-width="1.5" stroke-dasharray="4,1.8"/>
<circle cx="402.7" cy="264.4" r="3.1" fill="url(#gR)"/>
<circle cx="404.5" cy="279.6" r="3.1" fill="url(#gR)"/>
<circle cx="409" cy="328.5" r="3.1" fill="url(#gR)"/>
<circle cx="419.4" cy="367" r="3.1" fill="url(#gR)"/>
<circle cx="442.3" cy="374" r="3.1" fill="url(#gR)"/>
<circle cx="463.2" cy="371.5" r="3.1" fill="url(#gR)"/>
<circle cx="484.8" cy="385.2" r="3.1" fill="url(#gR)"/>
<circle cx="620.6" cy="384.9" r="3.1" fill="url(#gR)"/>
<circle cx="402.6" cy="412" r="3.1" fill="url(#gB)"/>
<circle cx="404.2" cy="413.8" r="3.1" fill="url(#gB)"/>
<circle cx="408.9" cy="419.8" r="3.1" fill="url(#gB)"/>
<circle cx="419.6" cy="426.5" r="3.1" fill="url(#gB)"/>
<circle cx="442.3" cy="427.7" r="3.1" fill="url(#gB)"/>
<circle cx="463.2" cy="427.7" r="3.1" fill="url(#gB)"/>
<circle cx="484.8" cy="430" r="3.1" fill="url(#gB)"/>
<circle cx="620.7" cy="430.3" r="3.1" fill="url(#gB)"/>
<line x1="479.8" y1="258.4" x2="500.2" y2="258.4" stroke="#f88a22" stroke-width="1.6" stroke-dasharray="4.1,1.6"/>
<line x1="505.8" y1="258.4" x2="526.2" y2="258.4" stroke="#3580c2" stroke-width="1.6" stroke-dasharray="4.2,1.6"/>
<circle cx="489.9" cy="276.4" r="3.1" fill="url(#gR)"/>
<circle cx="515.9" cy="276.4" r="3.1" fill="url(#gB)"/>
<text x="0.2" y="9.3" font-size="18" fill="#000" font-weight="bold" style="stroke:#000;stroke-width:0.6px" textLength="8.81" lengthAdjust="spacingAndGlyphs">a</text>
<text x="-1" y="242.7" font-size="18" fill="#000" font-weight="bold" style="stroke:#000;stroke-width:0.6px">b</text>
<text x="353.3" y="242.7" font-size="18" fill="#000" font-weight="bold" style="stroke:#000;stroke-width:0.6px">c</text>
<text x="57.1" y="175.5" font-size="13" fill="#1e1e1e" textLength="68.4" lengthAdjust="spacingAndGlyphs">O-graphene</text>
<text x="234.2" y="175.5" font-size="13" fill="#1e1e1e" textLength="74.61" lengthAdjust="spacingAndGlyphs">PEI-graphene</text>
<text x="400" y="175.9" font-size="13" fill="#1e1e1e" textLength="106.85" lengthAdjust="spacingAndGlyphs">Pyridinic-graphene</text>
<text x="56" y="273.2" font-size="11.5" fill="#1e1e1e" text-anchor="end" textLength="36.93" lengthAdjust="spacingAndGlyphs">30,000</text>
<text x="56" y="311.3" font-size="11.5" fill="#1e1e1e" text-anchor="end" textLength="36.93" lengthAdjust="spacingAndGlyphs">25,000</text>
<text x="56" y="349.4" font-size="11.5" fill="#1e1e1e" text-anchor="end" textLength="36.93" lengthAdjust="spacingAndGlyphs">20,000</text>
<text x="56" y="387.4" font-size="11.5" fill="#1e1e1e" text-anchor="end" textLength="34.82" lengthAdjust="spacingAndGlyphs">15,000</text>
<text x="56" y="425.5" font-size="11.5" fill="#1e1e1e" text-anchor="end" textLength="34.82" lengthAdjust="spacingAndGlyphs">10,000</text>
<text x="74.3" y="457.2" font-size="11.5" fill="#1e1e1e" text-anchor="middle" textLength="5.63" lengthAdjust="spacingAndGlyphs">0</text>
<text x="121.1" y="457.2" font-size="11.5" fill="#1e1e1e" text-anchor="middle" textLength="14.07" lengthAdjust="spacingAndGlyphs">0.1</text>
<text x="167.9" y="457.2" font-size="11.5" fill="#1e1e1e" text-anchor="middle" textLength="14.07" lengthAdjust="spacingAndGlyphs">0.2</text>
<text x="214.7" y="457.2" font-size="11.5" fill="#1e1e1e" text-anchor="middle" textLength="14.07" lengthAdjust="spacingAndGlyphs">0.3</text>
<text x="261.5" y="457.2" font-size="11.5" fill="#1e1e1e" text-anchor="middle" textLength="14.07" lengthAdjust="spacingAndGlyphs">0.4</text>
<text x="308.3" y="457.2" font-size="11.5" fill="#1e1e1e" text-anchor="middle" textLength="14.07" lengthAdjust="spacingAndGlyphs">0.5</text>
<text x="390.9" y="443.2" font-size="11.5" fill="#1e1e1e" text-anchor="end" textLength="6.27" lengthAdjust="spacingAndGlyphs">0</text>
<text x="390.9" y="413.87" font-size="11.5" fill="#1e1e1e" text-anchor="end" textLength="12.54" lengthAdjust="spacingAndGlyphs">20</text>
<text x="390.9" y="384.54" font-size="11.5" fill="#1e1e1e" text-anchor="end" textLength="12.54" lengthAdjust="spacingAndGlyphs">40</text>
<text x="390.9" y="355.21" font-size="11.5" fill="#1e1e1e" text-anchor="end" textLength="12.54" lengthAdjust="spacingAndGlyphs">60</text>
<text x="390.9" y="325.88" font-size="11.5" fill="#1e1e1e" text-anchor="end" textLength="12.54" lengthAdjust="spacingAndGlyphs">80</text>
<text x="390.9" y="296.55" font-size="11.5" fill="#1e1e1e" text-anchor="end" textLength="18.8" lengthAdjust="spacingAndGlyphs">100</text>
<text x="390.9" y="267.22" font-size="11.5" fill="#1e1e1e" text-anchor="end" textLength="18.8" lengthAdjust="spacingAndGlyphs">120</text>
<text x="400.3" y="457.2" font-size="11.5" fill="#1e1e1e" text-anchor="middle" textLength="5.63" lengthAdjust="spacingAndGlyphs">0</text>
<text x="443.8" y="457.2" font-size="11.5" fill="#1e1e1e" text-anchor="middle" textLength="14.07" lengthAdjust="spacingAndGlyphs">0.1</text>
<text x="487.3" y="457.2" font-size="11.5" fill="#1e1e1e" text-anchor="middle" textLength="14.07" lengthAdjust="spacingAndGlyphs">0.2</text>
<text x="530.8" y="457.2" font-size="11.5" fill="#1e1e1e" text-anchor="middle" textLength="14.07" lengthAdjust="spacingAndGlyphs">0.3</text>
<text x="574.3" y="457.2" font-size="11.5" fill="#1e1e1e" text-anchor="middle" textLength="14.07" lengthAdjust="spacingAndGlyphs">0.4</text>
<text x="617.8" y="457.2" font-size="11.5" fill="#1e1e1e" text-anchor="middle" textLength="14.07" lengthAdjust="spacingAndGlyphs">0.5</text>
<text x="204.8" y="263.8" font-size="12.3" fill="#1e1e1e" textLength="72.53" lengthAdjust="spacingAndGlyphs">Model fitting</text>
<text x="204.8" y="281.8" font-size="12.3" fill="#1e1e1e" textLength="102.01" lengthAdjust="spacingAndGlyphs">Experimental data</text>
<text x="530" y="261.7" font-size="12.3" fill="#1e1e1e" textLength="96.14" lengthAdjust="spacingAndGlyphs">Model prediction</text>
<text x="530" y="281" font-size="12.3" fill="#1e1e1e" textLength="102.01" lengthAdjust="spacingAndGlyphs">Experimental data</text>
<text transform="translate(10.3,405.6) rotate(-90)" font-size="12.5" fill="#1e1e1e" textLength="124.5" lengthAdjust="spacingAndGlyphs">CO<tspan font-size="8.75" dy="3.5">2</tspan><tspan dy="-3.5"> permeance (GPU)</tspan></text>
<text transform="translate(363.2,391.4) rotate(-90)" font-size="12.5" fill="#1e1e1e" textLength="96.6" lengthAdjust="spacingAndGlyphs">Separation factor</text>
<text x="550.5" y="380.7" font-size="12.6" fill="#1e1e1e">CO<tspan font-size="8.82" dy="3.15">2</tspan><tspan dy="-3.15">/N</tspan><tspan font-size="8.82" dy="3.15">2</tspan></text>
<text x="550.5" y="424.1" font-size="12.6" fill="#1e1e1e">CO<tspan font-size="8.82" dy="3.15">2</tspan><tspan dy="-3.15">/O</tspan><tspan font-size="8.82" dy="3.15">2</tspan></text>
<text x="174.5" y="476.2" font-size="12.5" fill="#1e1e1e" font-style="italic">X</text>
<text x="181.8" y="479.8" font-size="9" fill="#1e1e1e">CO<tspan font-size="6.88" dy="2">2</tspan></text>
<text x="202.8" y="476.2" font-size="12.5" fill="#1e1e1e">[-]</text>
<text x="505.2" y="476.2" font-size="12.5" fill="#1e1e1e" font-style="italic">X</text>
<text x="512.5" y="479.8" font-size="9" fill="#1e1e1e">CO<tspan font-size="6.88" dy="2">2</tspan></text>
<text x="533.5" y="476.2" font-size="12.5" fill="#1e1e1e">[-]</text>
</svg></body></html>
